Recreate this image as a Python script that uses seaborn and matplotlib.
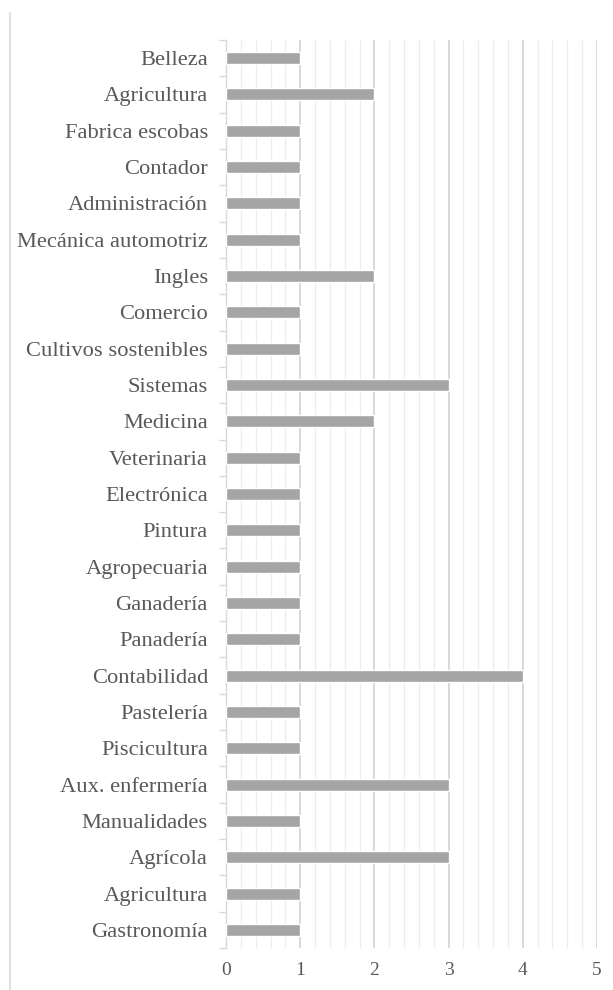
import matplotlib
matplotlib.use("Agg")
import matplotlib.pyplot as plt
import matplotlib.lines as mlines
from matplotlib.ticker import MultipleLocator, FixedLocator
import seaborn as sns
import pandas as pd

categories = ["Belleza", "Agricultura", "Fabrica escobas", "Contador", "Administración",
              "Mecánica automotriz", "Ingles", "Comercio", "Cultivos sostenibles", "Sistemas",
              "Medicina", "Veterinaria", "Electrónica", "Pintura", "Agropecuaria", "Ganadería",
              "Panadería", "Contabilidad", "Pastelería", "Piscicultura", "Aux. enfermería",
              "Manualidades", "Agrícola", "Agricultura", "Gastronomía"]
values = [1, 2, 1, 1, 1, 1, 2, 1, 1, 3, 2, 1, 1, 1, 1, 1, 1, 4, 1, 1, 3, 1, 3, 1, 1]
x_ticks = [0, 1, 2, 3, 4, 5]

sns.set_theme(style="white")
plt.rcParams['font.family'] = ['Liberation Serif', 'DejaVu Serif']

df = pd.DataFrame({"key": [f"{i}" for i in range(len(categories))], "value": values})

fig = plt.figure(figsize=(6.13, 9.90), dpi=100)
ax = fig.add_axes([226/613, 1-948/990, (597-226)/613, (948-40)/990])

sns.barplot(data=df, x="value", y="key", orient="h", color="#a5a5a5", saturation=1,
            width=0.33, ax=ax, zorder=3)

ax.set_xlim(0, 5)
ax.set_ylim(len(categories) - 0.5, -0.5)
ax.xaxis.set_major_locator(FixedLocator(x_ticks))
ax.xaxis.set_minor_locator(MultipleLocator(0.2))
ax.grid(True, axis="x", which="major", color="#d6d6d6", linewidth=1.3, zorder=0)
ax.grid(True, axis="x", which="minor", color="#ededed", linewidth=0.9, zorder=0)
ax.set_axisbelow(True)

ax.set_yticks(range(len(categories)))
ax.set_yticklabels(categories)
ax.yaxis.set_minor_locator(FixedLocator([i - 0.5 for i in range(len(categories) + 1)]))
ax.tick_params(axis="y", which="major", length=0, pad=13, labelsize=16.2, labelcolor="#595959")
ax.tick_params(axis="y", which="minor", length=5, width=1, color="#d9d9d9", left=True)
ax.tick_params(axis="x", which="both", length=0, pad=10, labelsize=14, labelcolor="#595959")
ax.set_xticklabels([str(t) for t in x_ticks])

ax.set_xlabel("")
ax.set_ylabel("")
for s in ["top", "right", "bottom"]:
    ax.spines[s].set_visible(False)
ax.spines["left"].set_color("#d9d9d9")
ax.spines["left"].set_linewidth(1)

fig.add_artist(mlines.Line2D([10/613, 10/613], [0, 1-13/990], transform=fig.transFigure,
                             color="#d9d9d9", linewidth=1.2))

fig.savefig("out.png", dpi=100, facecolor="white")
